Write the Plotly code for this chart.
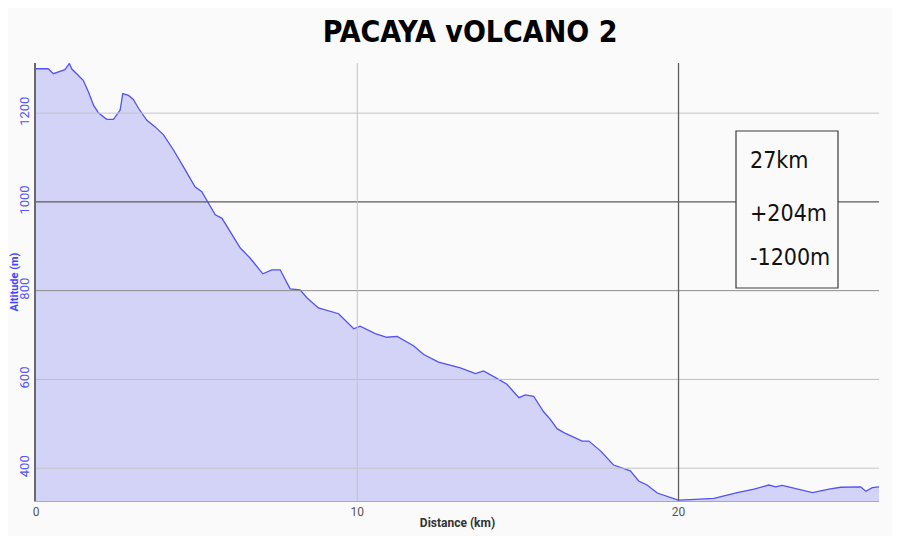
import plotly.graph_objects as go

# Elevation profile
distance_km = [0.0, 0.38, 0.54, 0.70, 0.90, 1.04, 1.11, 1.32, 1.47, 1.63, 1.79, 1.94,
               2.20, 2.41, 2.62, 2.70, 2.88, 3.03, 3.19, 3.45, 3.71, 3.97, 4.28, 4.59,
               4.95, 5.16, 5.37, 5.58, 5.79, 6.04, 6.36, 6.67, 7.06, 7.34, 7.60, 7.91,
               8.22, 8.43, 8.79, 9.42, 9.89, 10.09, 10.56, 10.92, 11.24, 11.75, 12.07,
               12.53, 13.21, 13.68, 13.93, 14.40, 14.66, 15.03, 15.23, 15.49, 15.80,
               16.01, 16.22, 16.43, 17.00, 17.21, 17.57, 17.98, 18.50, 18.76, 19.02,
               19.34, 19.99, 20.37, 21.10, 21.83, 22.35, 22.81, 23.02, 23.23, 23.49,
               23.80, 24.17, 24.68, 25.05, 25.67, 25.83, 26.03, 26.24]
altitude_m = [1300, 1300, 1289, 1293, 1298, 1312, 1300, 1285, 1274, 1248, 1218, 1201,
              1186, 1186, 1207, 1244, 1240, 1231, 1211, 1184, 1169, 1151, 1117, 1079,
              1034, 1023, 998, 971, 963, 933, 896, 873, 838, 847, 847, 804,
              802, 784, 761, 748, 714, 720, 703, 695, 697, 676, 656,
              639, 626, 613, 619, 600, 589, 559, 565, 562, 527,
              510, 489, 480, 461, 461, 439, 407, 394, 371, 362,
              344, 328, 329, 332, 345, 353, 362, 358, 361, 357,
              351, 345, 353, 357, 358, 348, 356, 358]

x_ticks = [0, 10, 20]
y_ticks = [400, 600, 800, 1000, 1200]
y_grid_colors = {400: "#c4c4c4", 600: "#bdbdbd", 800: "#8c8c8c", 1000: "#5a5a5a", 1200: "#c4c4c4"}
x_grid_colors = {10: "#c4c4c4", 20: "#5f5f5f"}

title_text = "PACAYA vOLCANO 2"
stats_lines = ["27km", "+204m", "-1200m"]

X_RANGE = [0, 26.24]
Y_RANGE = [326, 1313]

COND = "DejaVu Sans Condensed, DejaVu Sans"
SANS = "Roboto, Noto Sans, sans-serif"

fig = go.Figure()
fig.add_trace(go.Scatter(
    x=distance_km, y=altitude_m, mode="lines",
    line=dict(color="#5252f7", width=1.3),
    fill="tozeroy", fillcolor="#d3d3f7",
    hoverinfo="skip", showlegend=False,
))

shapes = []
for v in y_ticks:
    shapes.append(dict(type="line", xref="paper", yref="y", x0=0, x1=1, y0=v, y1=v,
                       line=dict(color=y_grid_colors[v], width=1.3 if v == 1000 else 1), layer="above"))
for v in x_ticks[1:]:
    shapes.append(dict(type="line", xref="x", yref="paper", x0=v, x1=v, y0=0, y1=1,
                       line=dict(color=x_grid_colors[v], width=1.3 if v == 20 else 1), layer="above"))
# stats box
shapes.append(dict(type="rect", xref="paper", yref="paper",
                   x0=(736 - 36) / 843, x1=(838 - 36) / 843,
                   y0=(501 - 288) / 438, y1=(501 - 131) / 438,
                   line=dict(color="#3a3a3a", width=1.2), fillcolor="#fafafa", layer="above"))

annotations = []
for i, t in enumerate(stats_lines):
    yc = [160, 213, 257][i]
    annotations.append(dict(text=t, xref="paper", yref="paper",
                            x=(748 - 36) / 843, y=(501 - yc) / 438,
                            xanchor="left", yanchor="middle", showarrow=False,
                            font=dict(family=COND, size=23, color="#111")))

fig.update_layout(
    width=892, height=528,
    paper_bgcolor="#fafafa", plot_bgcolor="#fafafa",
    margin=dict(l=28, r=21, t=55, b=35),
    title=dict(text="<b>" + title_text + "</b>", x=0.518, xanchor="center", y=0.955, yanchor="middle",
               font=dict(family=COND, size=30, color="#000")),
    xaxis=dict(range=X_RANGE, tickvals=x_ticks, showgrid=False, zeroline=False,
               automargin=False,
               showline=True, linecolor="#aaaaaa", linewidth=1,
               tickfont=dict(family=SANS, size=12, color="#555"),
               ticks="", ticklen=0,
               title=dict(text="<b>Distance (km)</b>", standoff=0,
                          font=dict(family=SANS, size=12, color="#333"))),
    yaxis=dict(range=Y_RANGE, tickvals=y_ticks, showgrid=False, zeroline=False,
               automargin=False,
               showline=True, linecolor="#6a6a6a", linewidth=1.5,
               tickangle=-90,
               tickfont=dict(family=SANS, size=13, color="#5555ff"),
               ticks="", ticklen=0,
               title=dict(text="<b>Altitude (m)</b>", standoff=0,
                          font=dict(family=SANS, size=11, color="#4444ff"))),
    shapes=shapes, annotations=annotations,
)

fig.write_html("out.html")
